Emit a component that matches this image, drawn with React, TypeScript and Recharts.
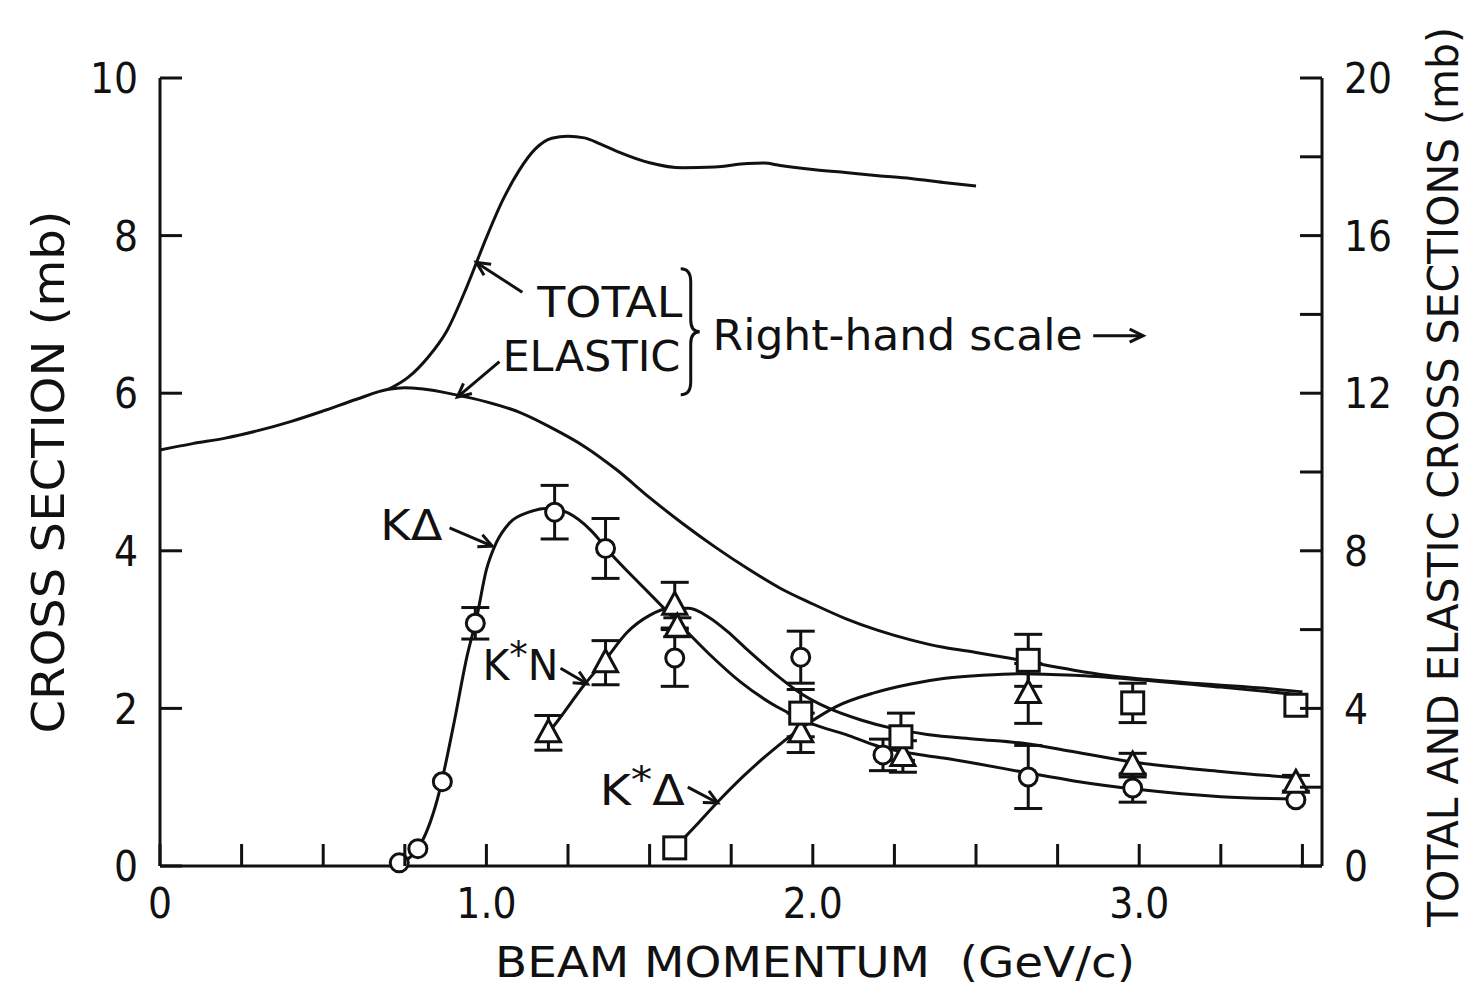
import React from "react";
import {
  ComposedChart,
  Line,
  Scatter,
  XAxis,
  YAxis,
  ErrorBar,
  ReferenceDot,
  ReferenceLine,
} from "recharts";

const FONT = '"DejaVu Sans Condensed", "Liberation Sans Narrow", "DejaVu Sans", sans-serif';

// total and elastic cross sections, right-hand scale (mb)
const elasticP = [0, 0.1, 0.2, 0.3, 0.4, 0.5, 0.6, 0.7, 0.75, 0.8, 0.9, 1.0, 1.1, 1.2, 1.3, 1.4, 1.5, 1.6, 1.7, 1.8, 1.9, 2.0, 2.1, 2.2, 2.3, 2.4, 2.5, 2.6, 2.7, 2.8, 2.9, 3.0, 3.2, 3.4, 3.5];
const elasticMb = [10.56, 10.72, 10.86, 11.05, 11.28, 11.55, 11.84, 12.1, 12.14, 12.11, 11.97, 11.78, 11.52, 11.12, 10.65, 10.05, 9.35, 8.7, 8.1, 7.55, 7.05, 6.65, 6.28, 5.98, 5.74, 5.55, 5.42, 5.28, 5.12, 4.97, 4.84, 4.75, 4.62, 4.5, 4.42];
const totalP = [0.7, 0.76, 0.82, 0.88, 0.94, 1.0, 1.05, 1.1, 1.15, 1.2, 1.25, 1.3, 1.35, 1.4, 1.5, 1.6, 1.7, 1.8, 1.85, 1.9, 2.0, 2.1, 2.2, 2.3, 2.4, 2.5];
const totalMb = [12.1, 12.4, 12.9, 13.6, 14.7, 15.95, 16.9, 17.65, 18.2, 18.47, 18.52, 18.48, 18.32, 18.14, 17.85, 17.72, 17.74, 17.83, 17.84, 17.78, 17.68, 17.6, 17.52, 17.45, 17.35, 17.26];

// fitted curves, left-hand scale (mb)
const kDeltaFitP = [0.733, 0.79, 0.85, 0.9, 0.94, 0.97, 1.0, 1.03, 1.07, 1.13, 1.19, 1.25, 1.32, 1.38, 1.48, 1.58, 1.68, 1.78, 1.89, 2.0, 2.1, 2.2, 2.3, 2.4, 2.5, 2.66, 2.8, 3.0, 3.25, 3.48];
const kDeltaFitMb = [0.04, 0.22, 0.85, 1.8, 2.65, 3.15, 3.76, 4.1, 4.35, 4.49, 4.54, 4.48, 4.26, 3.97, 3.54, 3.12, 2.7, 2.33, 2.02, 1.8, 1.67, 1.52, 1.43, 1.37, 1.3, 1.18, 1.08, 0.97, 0.88, 0.85];
const kStarNFitP = [1.19, 1.22, 1.3, 1.365, 1.43, 1.5, 1.56, 1.62, 1.68, 1.74, 1.79, 1.89, 1.96, 2.05, 2.15, 2.25, 2.35, 2.5, 2.64, 2.8, 2.98, 3.25, 3.48];
const kStarNFitMb = [1.69, 1.85, 2.3, 2.62, 2.96, 3.18, 3.27, 3.27, 3.16, 2.97, 2.78, 2.42, 2.2, 2.0, 1.85, 1.74, 1.67, 1.61, 1.56, 1.45, 1.32, 1.2, 1.12];
const kStarDeltaFitP = [1.577, 1.65, 1.715, 1.785, 1.886, 1.99, 2.07, 2.19, 2.3, 2.4, 2.52, 2.64, 2.8, 2.98, 3.25, 3.5];
const kStarDeltaFitMb = [0.23, 0.55, 0.84, 1.13, 1.5, 1.82, 2.02, 2.2, 2.31, 2.38, 2.42, 2.44, 2.42, 2.37, 2.27, 2.17];

// measured points with errors
const kDeltaP = [0.733, 0.79, 0.865, 0.966, 1.209, 1.365, 1.577, 1.963, 2.215, 2.66, 2.98, 3.48];
const kDeltaMb = [0.04, 0.22, 1.07, 3.08, 4.49, 4.03, 2.64, 2.65, 1.41, 1.13, 0.99, 0.84];
const kDeltaErr = [0, 0, 0, 0.2, 0.34, 0.38, 0.36, 0.33, 0.2, 0.4, 0.18, 0];
const kStarNP = [1.19, 1.365, 1.577, 1.585, 1.963, 2.276, 2.66, 2.98, 3.48];
const kStarNMb = [1.69, 2.58, 3.31, 3.03, 1.69, 1.39, 2.19, 1.28, 1.05];
const kStarNErr = [0.22, 0.28, 0.29, 0.12, 0.25, 0.2, 0.38, 0.15, 0.1];
const kStarDeltaP = [1.577, 1.963, 2.27, 2.66, 2.98, 3.48];
const kStarDeltaMb = [0.23, 1.94, 1.64, 2.61, 2.07, 2.04];
const kStarDeltaErr = [0, 0.3, 0.3, 0.33, 0.25, 0];

// axes
const xTicks = [0, 0.25, 0.5, 0.75, 1, 1.25, 1.5, 1.75, 2, 2.25, 2.5, 2.75, 3, 3.25, 3.5];
const xMajor = [0, 1, 2, 3];
const xMajorText = ["0", "1.0", "2.0", "3.0"];
const leftTicks = [0, 2, 4, 6, 8, 10];
const rightTicks = [0, 2, 4, 6, 8, 10, 12, 14, 16, 18, 20];
const rightLabelled = [0, 4, 8, 12, 16, 20];

const pairs = (xs: number[], ys: number[]) => xs.map((x, i) => ({ x, y: ys[i] }));
const points = (xs: number[], ys: number[], es: number[]) =>
  xs.map((x, i) => ({ x, y: ys[i], err: es[i] }));

const elastic = pairs(elasticP, elasticMb);
const total = pairs(totalP, totalMb);
const kDeltaFit = pairs(kDeltaFitP, kDeltaFitMb);
const kStarNFit = pairs(kStarNFitP, kStarNFitMb);
const kStarDeltaFit = pairs(kStarDeltaFitP, kStarDeltaFitMb);
const kDelta = points(kDeltaP, kDeltaMb, kDeltaErr);
const kStarN = points(kStarNP, kStarNMb, kStarNErr);
const kStarDelta = points(kStarDeltaP, kStarDeltaMb, kStarDeltaErr);

const INK = "#111";
const TICK = 22;
const BOTTOM_GAP = 22;
const LEFT_GAP = 22;
const RIGHT_GAP = 22;
const TICK_FONT = 42;

const BottomTick = ({ x, y, payload }: any) => {
  const ax = y - BOTTOM_GAP;
  const k = xMajor.indexOf(payload.value);
  return (
    <g>
      <line x1={x} y1={ax} x2={x} y2={ax - TICK} stroke={INK} strokeWidth={3} />
      {k >= 0 && (
        <text x={x} y={y} dy="0.72em" textAnchor="middle" fontFamily={FONT} fontSize={TICK_FONT} fill={INK}>
          {xMajorText[k]}
        </text>
      )}
    </g>
  );
};

const TopTick = ({ x, y }: any) => (
  <line x1={x} y1={y} x2={x} y2={y + TICK} stroke={INK} strokeWidth={3} />
);

const LeftTick = ({ x, y, payload }: any) => {
  const ax = x + LEFT_GAP;
  return (
    <g>
      <line x1={ax} y1={y} x2={ax + TICK} y2={y} stroke={INK} strokeWidth={3} />
      <text x={x} y={y} dy="0.36em" textAnchor="end" fontFamily={FONT} fontSize={TICK_FONT} fill={INK}>
        {payload.value}
      </text>
    </g>
  );
};

const RightTick = ({ x, y, payload }: any) => {
  const ax = x - RIGHT_GAP;
  return (
    <g>
      <line x1={ax} y1={y} x2={ax - TICK} y2={y} stroke={INK} strokeWidth={3} />
      {rightLabelled.includes(payload.value) && (
        <text x={x} y={y} dy="0.36em" textAnchor="start" fontFamily={FONT} fontSize={TICK_FONT} fill={INK}>
          {payload.value}
        </text>
      )}
    </g>
  );
};

const Circle = ({ cx, cy }: any) => (
  <circle cx={cx} cy={cy} r={9} fill="#fff" stroke={INK} strokeWidth={3} />
);
const Square = ({ cx, cy }: any) => (
  <rect x={cx - 11} y={cy - 11} width={22} height={22} fill="#fff" stroke={INK} strokeWidth={3} />
);
const Triangle = ({ cx, cy }: any) => (
  <polygon
    points={`${cx},${cy - 13} ${cx + 12},${cy + 9} ${cx - 12},${cy + 9}`}
    fill="#fff"
    stroke={INK}
    strokeWidth={3}
  />
);

const Arrow = ({ x1, y1, x2, y2 }: any) => {
  const a = Math.atan2(y2 - y1, x2 - x1);
  const h = 15;
  const p1 = [x2 - h * Math.cos(a - 0.45), y2 - h * Math.sin(a - 0.45)];
  const p2 = [x2 - h * Math.cos(a + 0.45), y2 - h * Math.sin(a + 0.45)];
  return (
    <g>
      <line x1={x1} y1={y1} x2={x2} y2={y2} stroke={INK} strokeWidth={3} />
      <polyline
        points={`${p1[0]},${p1[1]} ${x2},${y2} ${p2[0]},${p2[1]}`}
        fill="none"
        stroke={INK}
        strokeWidth={3}
      />
    </g>
  );
};

const word = (text: React.ReactNode, length: number, size = 42) => ({ cx, cy }: any) => (
  <text
    x={cx}
    y={cy}
    fontFamily={FONT}
    fontSize={size}
    fill={INK}
    textLength={length}
    lengthAdjust="spacingAndGlyphs"
  >
    {text}
  </text>
);

const Brace = ({ cx, cy }: any) => (
  <path
    d={`M ${cx - 10} ${cy - 63} Q ${cx} ${cy - 63} ${cx} ${cy - 50} L ${cx} ${cy - 12} Q ${cx} ${cy} ${cx + 9} ${cy} Q ${cx} ${cy} ${cx} ${cy + 12} L ${cx} ${cy + 50} Q ${cx} ${cy + 63} ${cx - 10} ${cy + 63}`}
    fill="none"
    stroke={INK}
    strokeWidth={3}
  />
);

const star = (
  <tspan dy={-12} fontSize={38}>
    *
  </tspan>
);

const annotations = [
  { x: 1.156, y: 6.97, shape: word("TOTAL", 145) },
  { x: 1.049, y: 6.28, shape: word("ELASTIC", 178) },
  { x: 1.693, y: 6.55, shape: word("Right-hand scale", 370) },
  { x: 0.675, y: 4.14, shape: word("KΔ", 62) },
  { x: 0.988, y: 2.36, shape: word(<>K{star}<tspan dy={12}>N</tspan></>, 76) },
  { x: 1.347, y: 0.774, shape: word(<>K{star}<tspan dy={12}>Δ</tspan></>, 85) },
  { x: 1.626, y: 6.78, shape: Brace },
];

const arrows = [
  [1.11, 7.28, 0.969, 7.66],
  [1.04, 6.4, 0.911, 5.95],
  [0.887, 4.29, 1.018, 4.06],
  [1.227, 2.51, 1.31, 2.31],
  [1.617, 1.0, 1.709, 0.8],
  [2.859, 6.73, 3.012, 6.73],
];

const curve = (data: any[], axis: string, key: string) => (
  <Line
    key={key}
    data={data}
    dataKey="y"
    yAxisId={axis}
    type="monotone"
    stroke={INK}
    strokeWidth={3}
    dot={false}
    activeDot={false}
    isAnimationActive={false}
  />
);

const errBar = <ErrorBar dataKey="err" direction="y" width={14} stroke={INK} strokeWidth={3} />;

export default function App() {
  return (
    <ComposedChart width={1466} height={985} margin={{ top: 70, right: 0, bottom: 0, left: 0 }}>
      <XAxis
        dataKey="x"
        type="number"
        domain={[0, 3.56]}
        ticks={xTicks}
        interval={0}
        height={127}
        tickSize={0}
        tickMargin={BOTTOM_GAP}
        tick={<BottomTick />}
        axisLine={{ stroke: INK, strokeWidth: 3 }}
        label={{
          content: ({ viewBox }: any) => (
            <text
              x={viewBox.x + 655}
              y={viewBox.y + 111}
              textAnchor="middle"
              fontFamily={FONT}
              fontSize={42}
              fill={INK}
              textLength={640}
              lengthAdjust="spacingAndGlyphs"
            >
              BEAM MOMENTUM{"\u00a0\u00a0"}(GeV/c)
            </text>
          ),
        }}
      />
      <XAxis
        xAxisId="top"
        orientation="top"
        type="number"
        domain={[0, 3.56]}
        ticks={xTicks}
        interval={0}
        height={0}
        tickSize={0}
        tickMargin={0}
        tick={<TopTick />}
        axisLine={{ stroke: INK, strokeWidth: 3 }}
      />
      <YAxis
        yAxisId="L"
        type="number"
        domain={[0, 10]}
        ticks={leftTicks}
        interval={0}
        width={152}
        tickSize={0}
        tickMargin={LEFT_GAP}
        tick={<LeftTick />}
        axisLine={{ stroke: INK, strokeWidth: 3 }}
        label={{
          content: ({ viewBox }: any) => {
            const cx = viewBox.x + 40;
            const cy = viewBox.y + viewBox.height / 2;
            return (
              <text
                x={cx}
                y={cy}
                dy="0.36em"
                textAnchor="middle"
                transform={`rotate(-90 ${cx} ${cy})`}
                fontFamily={FONT}
                fontSize={44}
                fill={INK}
                textLength={523}
                lengthAdjust="spacingAndGlyphs"
              >
                CROSS SECTION (mb)
              </text>
            );
          },
        }}
      />
      <YAxis
        yAxisId="R"
        orientation="right"
        type="number"
        domain={[0, 20]}
        ticks={rightTicks}
        interval={0}
        width={152}
        tickSize={0}
        tickMargin={RIGHT_GAP}
        tick={<RightTick />}
        axisLine={{ stroke: INK, strokeWidth: 3 }}
        label={{
          content: ({ viewBox }: any) => {
            const cx = viewBox.x + 121;
            const cy = viewBox.y + viewBox.height / 2 + 5;
            return (
              <text
                x={cx}
                y={cy}
                dy="0.36em"
                textAnchor="middle"
                transform={`rotate(-90 ${cx} ${cy})`}
                fontFamily={FONT}
                fontSize={42}
                fill={INK}
                textLength={900}
                lengthAdjust="spacingAndGlyphs"
              >
                TOTAL AND ELASTIC CROSS SECTIONS (mb)
              </text>
            );
          },
        }}
      />

      {curve(elastic, "R", "elastic")}
      {curve(total, "R", "total")}
      {curve(kDeltaFit, "L", "kd")}
      {curve(kStarNFit, "L", "ksn")}
      {curve(kStarDeltaFit, "L", "ksd")}

      <Scatter data={kDelta} dataKey="y" yAxisId="L" shape={<Circle />} isAnimationActive={false}>
        {errBar}
      </Scatter>
      <Scatter data={kStarN} dataKey="y" yAxisId="L" shape={<Triangle />} isAnimationActive={false}>
        {errBar}
      </Scatter>
      <Scatter data={kStarDelta} dataKey="y" yAxisId="L" shape={<Square />} isAnimationActive={false}>
        {errBar}
      </Scatter>

      {arrows.map(([xa, ya, xb, yb], i) => (
        <ReferenceLine
          key={`arrow-${i}`}
          yAxisId="L"
          segment={[
            { x: xa, y: ya },
            { x: xb, y: yb },
          ]}
          shape={<Arrow />}
        />
      ))}
      {annotations.map((a, i) => (
        <ReferenceDot key={`note-${i}`} yAxisId="L" x={a.x} y={a.y} r={0} shape={a.shape} />
      ))}
    </ComposedChart>
  );
}
